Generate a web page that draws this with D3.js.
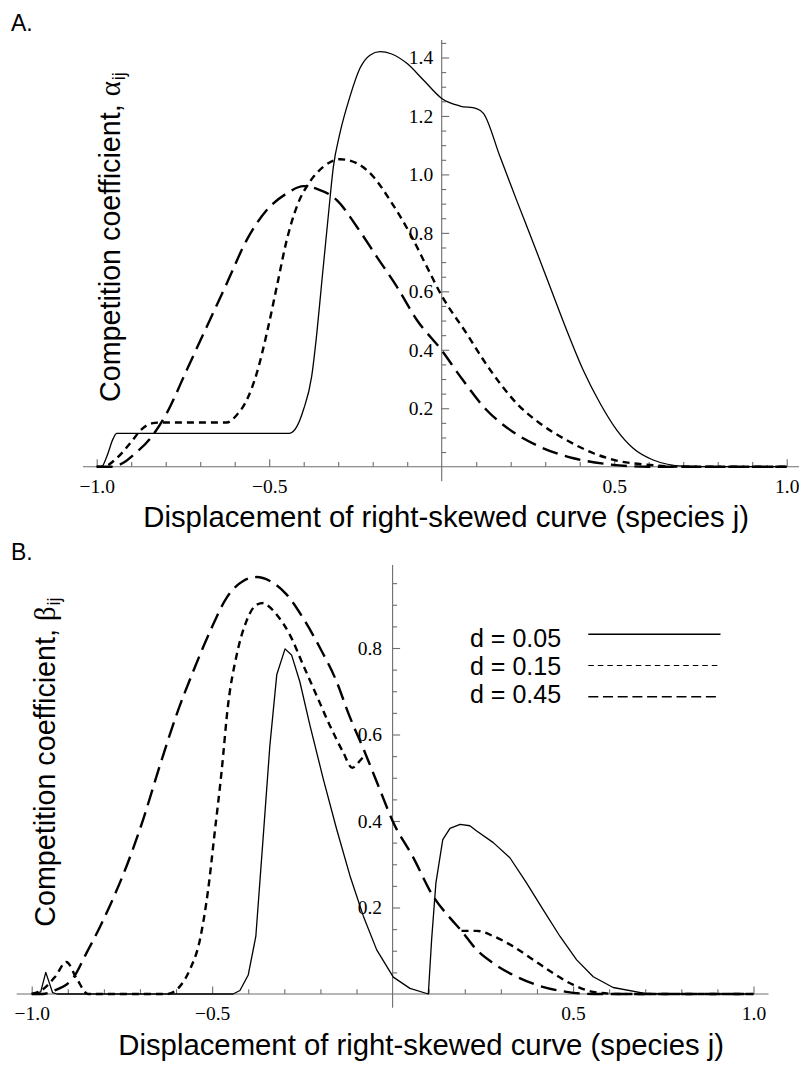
<!DOCTYPE html>
<html>
<head>
<meta charset="utf-8">
<script src="https://cdn.jsdelivr.net/npm/d3@7"></script>
<style>
  html, body { margin: 0; padding: 0; background: #fff; }
  svg { display: block; }
</style>
</head>
<body>
<svg id="chart" width="799" height="1087"></svg>
<script>
// ---------------- data ----------------
const legendLabels = ["d = 0.05", "d = 0.15", "d = 0.45"];
const xTickValues = [-1.0, -0.5, 0.5, 1.0];
const xTickLabels = ["\u22121.0", "\u22120.5", "0.5", "1.0"];
const yTickValuesA = [0.2, 0.4, 0.6, 0.8, 1.0, 1.2, 1.4];
const yTickLabelsA = ["0.2", "0.4", "0.6", "0.8", "1.0", "1.2", "1.4"];
const yTickValuesB = [0.2, 0.4, 0.6, 0.8];
const yTickLabelsB = ["0.2", "0.4", "0.6", "0.8"];
const xAxisTitle = "Displacement of right-skewed curve (species j)";
const yAxisTitle = "Competition coefficient, ";

// Panel A: alpha_ij  [displacement, value]
const alphaD005 = [[-1.0,0],[-0.986,0],[-0.971,0.034],[-0.952,0.097],[-0.942,0.114],[-0.442,0.114],[-0.42,0.137],
  [-0.401,0.194],[-0.377,0.308],[-0.362,0.456],[-0.348,0.627],[-0.329,0.855],[-0.314,1.026],[-0.295,1.141],
  [-0.266,1.266],[-0.237,1.363],[-0.208,1.408],[-0.179,1.420],[-0.145,1.412],[-0.101,1.380],[-0.053,1.323],
  [0,1.260],[0.053,1.234],[0.101,1.225],[0.121,1.209],[0.169,1.061],[0.217,0.912],[0.266,0.764],[0.314,0.616],
  [0.362,0.468],[0.41,0.331],[0.459,0.217],[0.507,0.126],[0.555,0.063],[0.613,0.023],[0.70,0.002],[0.8,0],[1.0,0]];
const alphaD015 = [[-1.0,0],[-0.981,0],[-0.942,0.029],[-0.903,0.08],[-0.870,0.128],[-0.841,0.148],[-0.817,0.151],
  [-0.623,0.151],[-0.594,0.177],[-0.565,0.228],[-0.536,0.320],[-0.507,0.456],[-0.478,0.616],[-0.449,0.776],
  [-0.42,0.890],[-0.382,0.975],[-0.343,1.026],[-0.295,1.052],[-0.246,1.038],[-0.198,0.992],[-0.15,0.912],
  [-0.092,0.798],[-0.043,0.684],[0,0.585],[0.072,0.456],[0.121,0.365],[0.169,0.285],[0.217,0.217],[0.285,0.148],
  [0.362,0.091],[0.44,0.046],[0.507,0.021],[0.604,0.006],[0.70,0],[1.0,0]];
const alphaD045 = [[-1.0,0],[-0.96,0],[-0.918,0.017],[-0.894,0.04],[-0.846,0.095],[-0.797,0.183],[-0.739,0.331],
  [-0.681,0.479],[-0.623,0.627],[-0.565,0.776],[-0.507,0.878],[-0.449,0.935],[-0.40,0.960],[-0.36,0.950],
  [-0.304,0.912],[-0.246,0.821],[-0.188,0.718],[-0.13,0.616],[-0.072,0.502],[0,0.398],[0.053,0.31],[0.13,0.194],
  [0.198,0.126],[0.285,0.068],[0.382,0.029],[0.478,0.009],[0.6,0],[1.0,0]];

// Panel B: beta_ij  (null = hidden where it coincides with d = 0.45)
const betaD005 = [[-1.0,0],[-0.975,0.005],[-0.961,0.05],[-0.942,0.003],[-0.93,0],[-0.442,0],[-0.423,0.008],
  [-0.400,0.044],[-0.379,0.133],[-0.359,0.358],[-0.340,0.575],[-0.321,0.738],[-0.298,0.798],[-0.280,0.784],
  [-0.257,0.722],[-0.229,0.621],[-0.192,0.497],[-0.155,0.381],[-0.118,0.273],[-0.081,0.180],[-0.044,0.102],
  [0.002,0.039],[0.048,0.013],[0.099,0],[0.108,0.124],[0.12,0.257],[0.139,0.357],[0.159,0.383],[0.187,0.392],
  [0.214,0.389],[0.233,0.377],[0.279,0.350],[0.325,0.315],[0.371,0.257],[0.417,0.195],[0.464,0.133],
  [0.510,0.079],[0.556,0.040],[0.611,0.015],[0.695,0.002],[0.741,0],[1.0,0]];
const betaD015 = [[-1.0,0],[-0.97,0.01],[-0.935,0.04],[-0.904,0.074],[-0.875,0.035],[-0.844,0],[-0.626,0],
  [-0.590,0.017],[-0.562,0.056],[-0.534,0.125],[-0.511,0.242],[-0.493,0.373],[-0.474,0.513],[-0.456,0.668],
  [-0.432,0.784],[-0.405,0.862],[-0.377,0.900],[-0.358,0.904],[-0.349,0.900],[-0.321,0.877],[-0.285,0.831],
  [-0.248,0.761],[-0.211,0.691],[-0.174,0.621],[-0.137,0.559],[-0.112,0.523],[-0.09,0.54],[-0.075,0.555],
  [0,null],[0.191,0.146],[0.233,0.146],[0.279,0.134],[0.334,0.110],[0.390,0.079],[0.445,0.048],[0.501,0.021],
  [0.556,0.005],[0.630,0],[1.0,0]];
const betaD045 = [[-1.0,0],[-0.97,0],[-0.94,0.007],[-0.885,0.037],[-0.848,0.095],[-0.811,0.155],[-0.784,0.203],
  [-0.737,0.296],[-0.691,0.404],[-0.645,0.528],[-0.599,0.645],[-0.553,0.745],[-0.506,0.838],[-0.460,0.916],
  [-0.414,0.955],[-0.377,0.964],[-0.340,0.955],[-0.294,0.924],[-0.248,0.869],[-0.201,0.800],[-0.155,0.722],
  [-0.123,0.650],[-0.075,0.555],[-0.035,0.472],[0,0.400],[0.057,0.316],[0.113,0.225],[0.159,0.176],[0.191,0.146],
  [0.233,0.102],[0.279,0.071],[0.334,0.044],[0.399,0.021],[0.482,0.005],[0.556,0],[1.0,0]];

// ---------------- styles ----------------
const AXIS_COLOR = "#6e6e6e";
const SANS = "'Liberation Sans', Arial, Helvetica, sans-serif";
const SERIF = "'Liberation Serif', 'Times New Roman', serif";
const lineStyles = [
  { width: 1.3, dash: null },
  { width: 2.4, dash: "7,5" },
  { width: 2.4, dash: "16,7.5" }
];
const legendLineStyles = [
  { width: 1.6, dash: null },
  { width: 1.2, dash: "5.5,4" },
  { width: 1.6, dash: "10,4.7" }
];

const svg = d3.select("#chart");

const panels = [
  {
    letter: "A.", letterPos: [11, 31],
    x: d3.scaleLinear().domain([-1, 1]).range([96.7, 786.7]),
    y: d3.scaleLinear().domain([0, 1.4]).range([466.7, 57.5]),
    xExtent: [-1.04, 1.04], yExtent: [-0.05, 1.46],
    yTicks: yTickValuesA, yLabels: yTickLabelsA, yMinorMax: 1.45, yPad: 8.5,
    xTitle: [143.3, 527.3], yTitle: [120, 402], greek: "\u03B1",
    series: [alphaD005, alphaD015, alphaD045],
    curves: [d3.curveMonotoneX, d3.curveMonotoneX, d3.curveMonotoneX],
    legend: false
  },
  {
    letter: "B.", letterPos: [11, 560],
    x: d3.scaleLinear().domain([-1, 1]).range([31.7, 753.5]),
    y: d3.scaleLinear().domain([0, 0.8]).range([994, 648]),
    xExtent: [-1.0416, 1.0416], yExtent: [-0.032, 0.992],
    yTicks: yTickValuesB, yLabels: yTickLabelsB, yMinorMax: 0.95, yPad: 10.5,
    xTitle: [118.3, 1055], yTitle: [55, 926.7], greek: "\u03B2",
    series: [betaD005, betaD015, betaD045],
    curves: [d3.curveLinear, d3.curveMonotoneX, d3.curveMonotoneX],
    legend: true
  }
];

panels.forEach(p => {
  const g = svg.append("g");
  const x = p.x, y = p.y;

  // axis lines
  g.append("line")
    .attr("x1", x(p.xExtent[0])).attr("x2", x(p.xExtent[1]))
    .attr("y1", y(0)).attr("y2", y(0))
    .attr("stroke", AXIS_COLOR).attr("stroke-width", 1.1);
  g.append("line")
    .attr("x1", x(0)).attr("x2", x(0))
    .attr("y1", y(p.yExtent[0])).attr("y2", y(p.yExtent[1]))
    .attr("stroke", AXIS_COLOR).attr("stroke-width", 1.1);

  // x minor ticks
  const xMinor = d3.range(-10, 11).map(i => i / 10).filter(v => !xTickValues.includes(v) && v !== 0);
  const gxMinor = g.append("g").attr("transform", `translate(0,${y(0)})`)
    .call(d3.axisBottom(x).tickValues(xMinor).tickSize(-4.8).tickFormat(""));
  // x major ticks with labels
  const gxMajor = g.append("g").attr("transform", `translate(0,${y(0)})`)
    .call(d3.axisBottom(x).tickValues(xTickValues).tickSize(-7.5).tickPadding(12)
      .tickFormat((d, i) => xTickLabels[i]));
  [gxMinor, gxMajor].forEach(a => {
    a.select(".domain").remove();
    a.selectAll(".tick line").attr("stroke", AXIS_COLOR).attr("stroke-width", 1.1);
    a.selectAll(".tick text").attr("font-family", SERIF).attr("font-size", 19.5).attr("fill", "#000");
  });

  // y minor ticks
  const nMinor = Math.round(p.yMinorMax / 0.05);
  const yMinor = d3.range(1, nMinor + 1).map(i => +(i * 0.05).toFixed(2))
    .filter(v => !p.yTicks.some(t => Math.abs(t - v) < 1e-6));
  const gyMinor = g.append("g").attr("transform", `translate(${x(0)},0)`)
    .call(d3.axisLeft(y).tickValues(yMinor).tickSize(-4.5).tickFormat(""));
  const gyMajor = g.append("g").attr("transform", `translate(${x(0)},0)`)
    .call(d3.axisLeft(y).tickValues(p.yTicks).tickSize(-7.5).tickPadding(p.yPad)
      .tickFormat((d, i) => p.yLabels[i]));
  [gyMinor, gyMajor].forEach(a => {
    a.select(".domain").remove();
    a.selectAll(".tick line").attr("stroke", AXIS_COLOR).attr("stroke-width", 1.1);
    a.selectAll(".tick text").attr("font-family", SERIF).attr("font-size", 19.5).attr("fill", "#000");
  });

  // curves
  p.series.forEach((data, i) => {
    const line = d3.line()
      .defined(d => d[1] !== null)
      .x(d => x(d[0])).y(d => y(d[1]))
      .curve(p.curves[i]);
    const st = lineStyles[i];
    g.append("path").datum(data)
      .attr("d", line)
      .attr("fill", "none")
      .attr("stroke", "#000")
      .attr("stroke-width", st.width)
      .attr("stroke-dasharray", st.dash)
      .attr("stroke-linejoin", "round");
  });

  // panel letter
  g.append("text").attr("x", p.letterPos[0]).attr("y", p.letterPos[1])
    .attr("font-family", SANS).attr("font-size", 23).attr("fill", "#000").text(p.letter);

  // x title
  g.append("text").attr("x", p.xTitle[0]).attr("y", p.xTitle[1])
    .attr("font-family", SANS).attr("font-size", 29.3).attr("fill", "#000").text(xAxisTitle);

  // y title (rotated)
  const yt = g.append("text")
    .attr("transform", `translate(${p.yTitle[0]},${p.yTitle[1]}) rotate(-90)`)
    .attr("font-family", SANS).attr("font-size", 28.7).attr("fill", "#000");
  yt.append("tspan").text(yAxisTitle);
  yt.append("tspan").attr("font-family", SERIF).text(p.greek);
  yt.append("tspan").attr("font-size", 18).attr("dy", 5).attr("dx", 1).text("ij");

  // legend
  if (p.legend) {
    const lg = g.append("g");
    legendLabels.forEach((lab, i) => {
      lg.append("text").attr("x", 470).attr("y", 647.3 + i * 28)
        .attr("font-family", SANS).attr("font-size", 25).attr("fill", "#000").text(lab);
      const st = legendLineStyles[i];
      lg.append("line")
        .attr("x1", 588.3).attr("x2", 720.5)
        .attr("y1", 634.3 + i * 31.2).attr("y2", 634.3 + i * 31.2)
        .attr("stroke", "#000").attr("stroke-width", st.width)
        .attr("stroke-dasharray", st.dash);
    });
  }
});
</script>
</body>
</html>
